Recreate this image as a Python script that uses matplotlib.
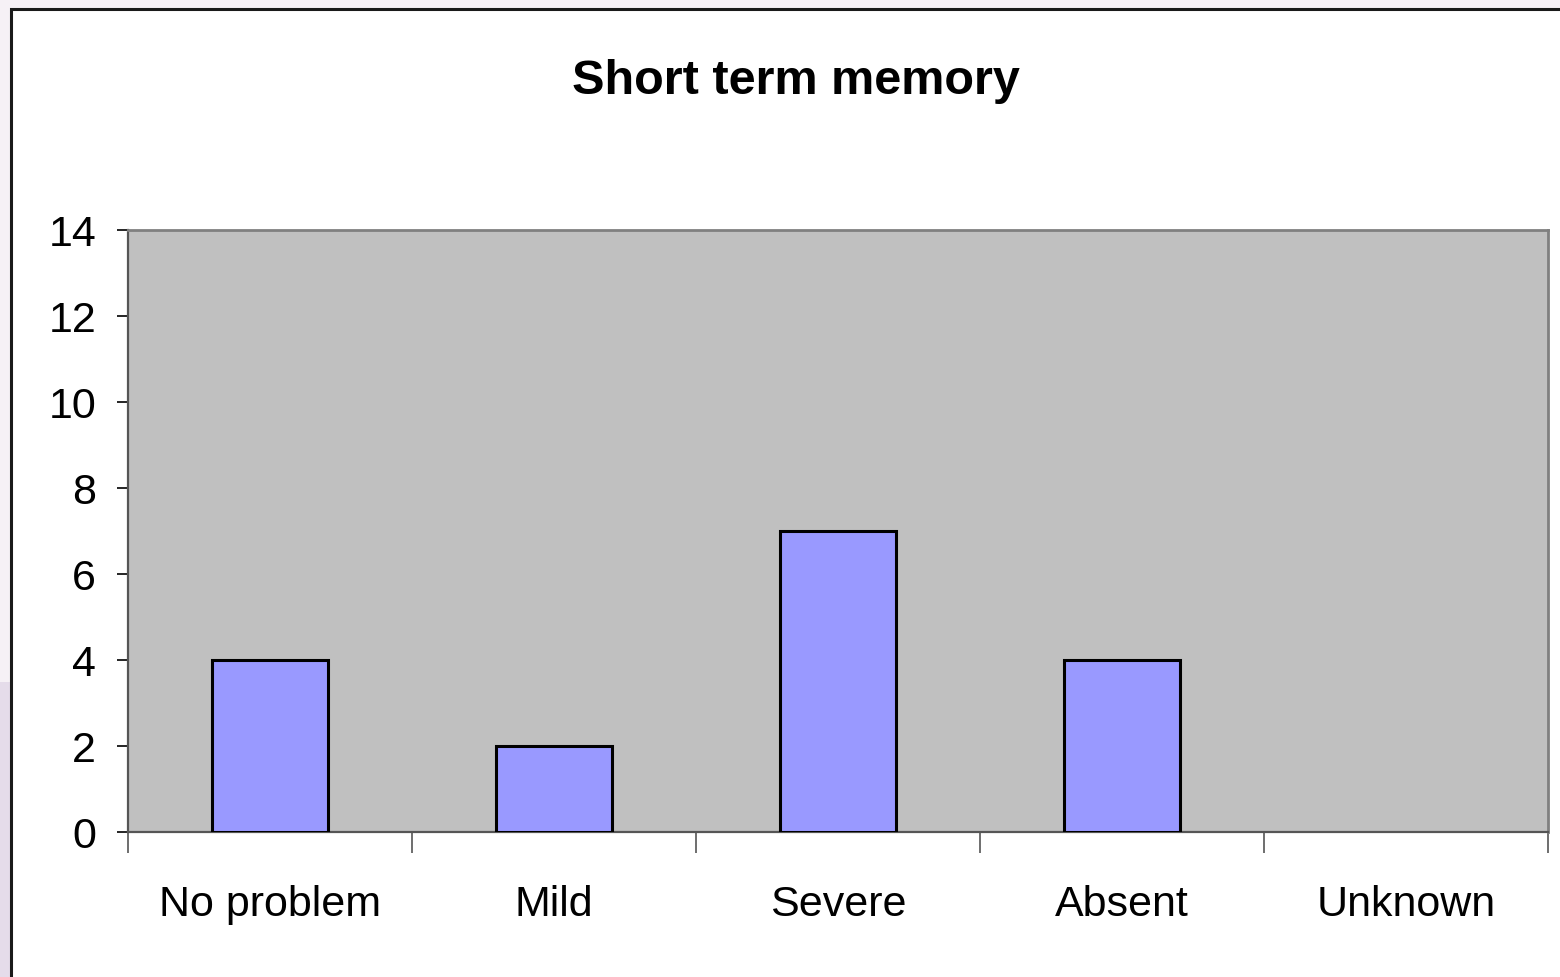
import matplotlib
matplotlib.use("Agg")
import matplotlib.pyplot as plt
from matplotlib.patches import Rectangle
import numpy as np

categories = ["No problem", "Mild", "Severe", "Absent", "Unknown"]
values = [4, 2, 7, 4, 0]
yticks = [0, 2, 4, 6, 8, 10, 12, 14]
title = "Short term memory"

plt.rcParams['font.family'] = ['Liberation Sans', 'DejaVu Sans']

W, H = 1560, 978
fig = plt.figure(figsize=(W / 100, H / 100), dpi=100)
fig.patch.set_facecolor('#F6F1F6')

# left strip lower tint
fig.patches.append(Rectangle((0, 0), 10 / W, 1 - 683 / H, transform=fig.transFigure,
                             facecolor='#E5DCEA', edgecolor='none', zorder=-10))
# white chart frame
fig.patches.append(Rectangle((11 / W, -0.01), 1.02, 1 - 10 / H + 0.01, transform=fig.transFigure,
                             facecolor='white', edgecolor='#1a1a1a', linewidth=2.2, zorder=-9))

ax = fig.add_axes([128 / W, 1 - 833 / H, (1548 - 128) / W, (833 - 231) / H])
ax.set_facecolor('#C0C0C0')

x = np.arange(len(categories))
edges = ['black' if v > 0 else 'none' for v in values]
ax.bar(x, values, width=0.405, color='#9999FF', edgecolor=edges, linewidth=2.2, zorder=3)

ax.set_xlim(-0.5, len(categories) - 0.5)
ax.set_ylim(0, 14)
ax.set_yticks(yticks)
ax.set_yticklabels([str(v) for v in yticks], fontsize=31)
ax.tick_params(axis='y', direction='out', length=8, width=1.2, color='black', pad=15)

ax.set_xticks(np.arange(len(categories) + 1) - 0.5)
ax.set_xticklabels([])
ax.set_xticks(x, minor=True)
ax.set_xticklabels(categories, minor=True, fontsize=31)
ax.tick_params(axis='x', which='major', direction='out', length=15, width=1.2, color='#555555')
ax.tick_params(axis='x', which='minor', length=0, pad=37.5)

for side in ['top', 'right']:
    ax.spines[side].set_color('#808080')
    ax.spines[side].set_linewidth(2)
ax.spines['left'].set_color('#555555')
ax.spines['left'].set_linewidth(1.6)
ax.spines['bottom'].set_color('#555555')
ax.spines['bottom'].set_linewidth(1.6)

fig.text(796 / W, 1 - 82 / H, title, ha='center', va='center', fontsize=35,
         fontweight='bold')

fig.savefig('out.png', dpi=100, facecolor=fig.get_facecolor())
